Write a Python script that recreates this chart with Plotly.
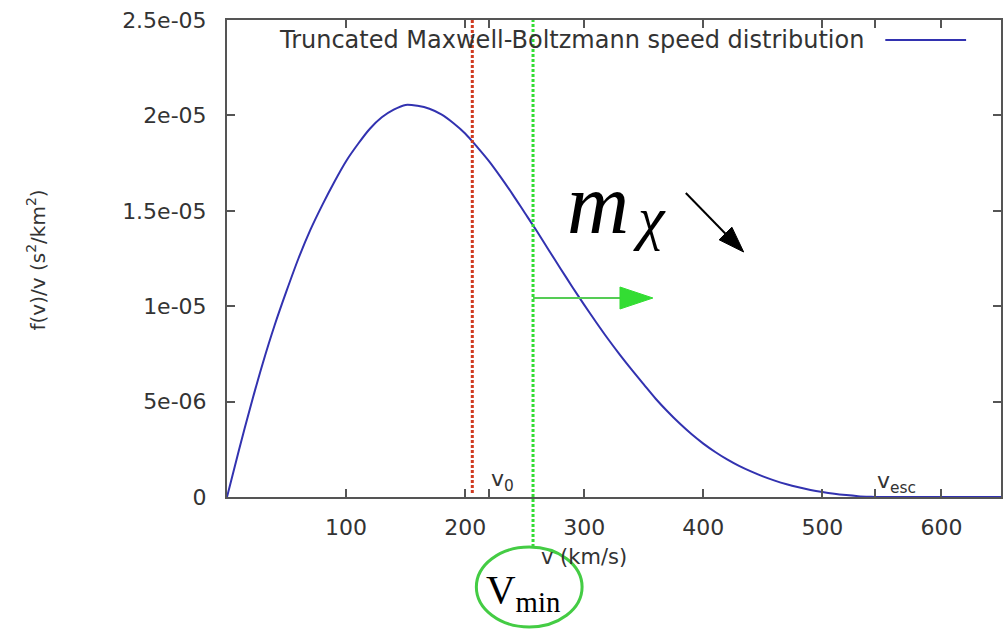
import plotly.graph_objects as go

# ---------------- data ----------------
v_kms = [0, 10, 20, 30, 40, 50, 60, 70, 80, 90, 100, 110, 120, 130, 140, 150,
         160, 170, 180, 190, 200, 210, 220, 230, 240, 250, 260, 270, 280, 290,
         300, 310, 320, 330, 340, 350, 360, 370, 380, 390, 400, 410, 420, 430,
         440, 450, 460, 470, 480, 490, 500, 510, 520, 530, 540, 544, 650]
f_over_v = [0.0, 0.245e-5, 0.48e-5, 0.70e-5, 0.90e-5, 1.08e-5, 1.25e-5, 1.40e-5,
            1.53e-5, 1.65e-5, 1.76e-5, 1.85e-5, 1.93e-5, 1.99e-5, 2.03e-5, 2.055e-5,
            2.05e-5, 2.035e-5, 2.005e-5, 1.96e-5, 1.905e-5, 1.835e-5, 1.76e-5, 1.675e-5,
            1.585e-5, 1.49e-5, 1.395e-5, 1.296e-5, 1.198e-5, 1.101e-5, 1.007e-5, 0.916e-5,
            0.828e-5, 0.745e-5, 0.666e-5, 0.59e-5, 0.515e-5, 0.448e-5, 0.386e-5, 0.33e-5,
            0.28e-5, 0.236e-5, 0.197e-5, 0.163e-5, 0.134e-5, 0.108e-5, 0.086e-5, 0.067e-5,
            0.051e-5, 0.037e-5, 0.026e-5, 0.017e-5, 0.010e-5, 0.0045e-5, 0.001e-5, 0.0, 0.0]

x_tickvals = [100, 200, 220, 300, 400, 500, 544, 600]
x_ticktext = ["100", "200", "", "300", "400", "500", "", "600"]
y_tickvals = [0, 5e-6, 1e-5, 1.5e-5, 2e-5, 2.5e-5]
y_ticktext = ["0", "5e-06", "1e-05", "1.5e-05", "2e-05", "2.5e-05"]

V0_LINE = 206      # red dotted line
V0 = 220           # v0 tick
VESC = 544         # v_esc tick
VMIN = 257         # green dotted line
X_MAX = 650
Y_MAX = 2.5e-5

legend_label = "Truncated Maxwell-Boltzmann speed distribution"

# ---------------- layout helpers (pixel -> paper) ----------------
L, R, T, B = 227, 0, 20, 132
W, H = 1003, 629
PW, PH = W - L - R, H - T - B


def px(x):
    return (x - L) / PW


def py(y):
    return (H - B - y) / PH


BLUE = "#3232b0"
GREEN = "#33dd33"
RED = "#d03a20"
AXC = "#555555"
TXT = "#333333"
FONT = "DejaVu Sans"

fig = go.Figure()
fig.add_trace(go.Scatter(x=v_kms, y=f_over_v, mode="lines",
                         line=dict(color=BLUE, width=2, shape="spline", smoothing=0.8),
                         showlegend=False, hoverinfo="skip"))

shapes = []
# red dotted line at ~v0
shapes.append(dict(type="line", xref="x", yref="paper", x0=V0_LINE, x1=V0_LINE,
                   y0=py(493), y1=1, line=dict(color=RED, width=3, dash="3px,2px")))
# green dotted line at vmin (extends below the axis)
xg = VMIN / X_MAX
shapes.append(dict(type="line", xref="paper", yref="paper", x0=xg, x1=xg,
                   y0=py(547), y1=1, line=dict(color=GREEN, width=3, dash="3px,2px")))
# green arrow
shapes.append(dict(type="line", xref="paper", yref="paper", x0=xg, x1=px(622),
                   y0=py(298), y1=py(298), line=dict(color="#55cc55", width=2)))
shapes.append(dict(type="path", xref="paper", yref="paper",
                   path=f"M {px(621)},{py(287)} L {px(621)},{py(309)} L {px(654)},{py(298)} Z",
                   fillcolor=GREEN, line=dict(color=GREEN, width=1)))
# black arrow
shapes.append(dict(type="line", xref="paper", yref="paper", x0=px(687), x1=px(728),
                   y0=py(193), y1=py(235), line=dict(color="black", width=2)))
shapes.append(dict(type="path", xref="paper", yref="paper",
                   path=f"M {px(720.4)},{py(239.8)} L {px(733.2)},{py(227.2)} L {px(745)},{py(252)} Z",
                   fillcolor="black", line=dict(color="black", width=1)))
# legend sample
shapes.append(dict(type="line", xref="paper", yref="paper", x0=px(887), x1=px(968),
                   y0=py(40), y1=py(40), line=dict(color=BLUE, width=2)))
# ellipse around V_min
shapes.append(dict(type="circle", xref="paper", yref="paper", x0=px(477), x1=px(583),
                   y0=py(627), y1=py(547), line=dict(color="#44cc44", width=3)))

annotations = [
    dict(text=legend_label, xref="paper", yref="paper", x=px(868), y=py(40),
         xanchor="right", yanchor="middle", showarrow=False,
         font=dict(family=FONT, size=24, color=TXT)),
    dict(text="f(v)/v (s<sup>2</sup>/km<sup>2</sup>)", xref="paper", yref="paper",
         x=px(36), y=py(260), textangle=-90, xanchor="center", yanchor="middle",
         showarrow=False, font=dict(family=FONT, size=20, color=TXT)),
    dict(text="v (km/s)", xref="paper", yref="paper", x=px(585), y=py(557),
         xanchor="center", yanchor="middle", showarrow=False,
         font=dict(family=FONT, size=21, color=TXT)),
    dict(text="v<sub>0</sub>", xref="x", yref="paper", x=V0, y=py(480),
         xanchor="left", yanchor="middle", showarrow=False,
         font=dict(family=FONT, size=22, color=TXT)),
    dict(text="v<sub>esc</sub>", xref="x", yref="paper", x=VESC, y=py(482),
         xanchor="left", yanchor="middle", showarrow=False,
         font=dict(family=FONT, size=22, color=TXT)),
    dict(text="<i>m</i>", xref="paper", yref="paper",
         x=px(566), y=py(204), xanchor="left", yanchor="middle", showarrow=False,
         font=dict(family="Liberation Serif", size=86, color="black")),
    dict(text="<i>χ</i>", xref="paper", yref="paper",
         x=px(632), y=py(218), xanchor="left", yanchor="middle", showarrow=False,
         font=dict(family="Liberation Serif", size=60, color="black")),
    dict(text="V<sub>min</sub>", xref="paper", yref="paper",
         x=px(485), y=py(592), xanchor="left", yanchor="middle", showarrow=False,
         font=dict(family="Liberation Serif", size=41, color="black")),
]

axis_common = dict(showline=True, linecolor=AXC, linewidth=2, mirror="allticks",
                   ticks="inside", ticklen=8, tickwidth=1.5, tickcolor=AXC,
                   showgrid=False, zeroline=False,
                   tickfont=dict(family=FONT, size=22, color=TXT))

fig.update_layout(
    width=W, height=H,
    margin=dict(l=L, r=R, t=T, b=B, pad=0),
    paper_bgcolor="white", plot_bgcolor="white",
    xaxis=dict(range=[0, X_MAX], tickvals=x_tickvals, ticktext=x_ticktext,
               ticklabelstandoff=10, **axis_common),
    yaxis=dict(range=[0, Y_MAX], tickvals=y_tickvals, ticktext=y_ticktext,
               ticklabelstandoff=14, **axis_common),
    shapes=shapes, annotations=annotations, showlegend=False,
)

fig.write_html("out.html")
